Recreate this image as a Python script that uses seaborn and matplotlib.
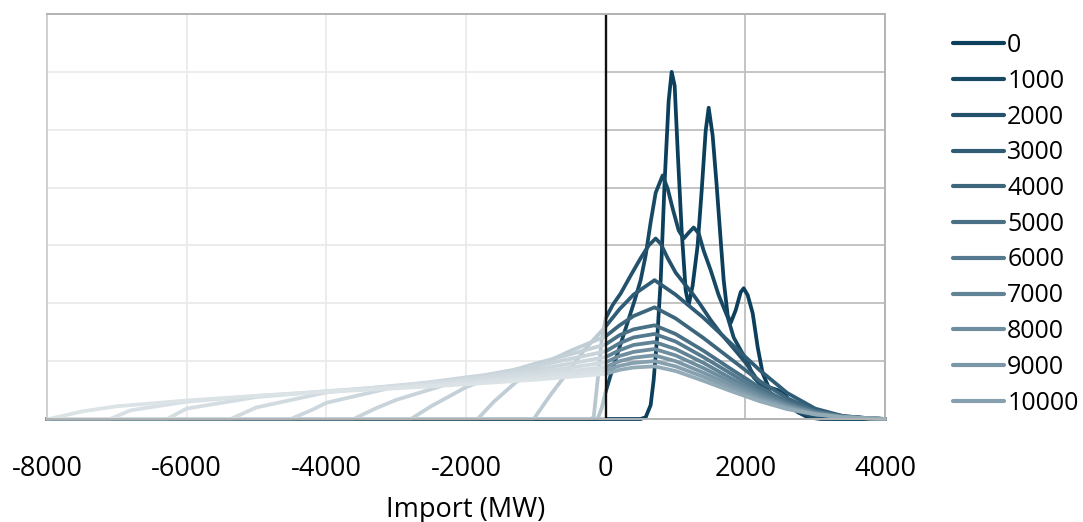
import matplotlib
matplotlib.use("Agg")
import matplotlib.pyplot as plt
from matplotlib.patches import Rectangle
from matplotlib.lines import Line2D
import seaborn as sns
import pandas as pd

sns.set_style("white")
plt.rcParams['font.family'] = ['Open Sans', 'DejaVu Sans']
plt.rcParams['text.color'] = 'black'
plt.rcParams['axes.labelcolor'] = 'black'
plt.rcParams['xtick.color'] = 'black'

# ---- data (Import in MW, density in arbitrary units: one gridline = 1) ----
series_labels = ["0", "1000", "2000", "3000", "4000", "5000", "6000",
                 "7000", "8000", "9000", "10000", "11000"]

s0_x = [-8000, 501, 573, 644, 687, 745, 788, 845, 902, 945, 988, 1031, 1088, 1146, 1189,
        1246, 1317, 1375, 1432, 1475, 1532, 1590, 1647, 1690, 1747, 1790, 1862, 1933,
        1976, 2034, 2105, 2177, 2248, 2334, 2463, 2578, 2649, 2749, 2893, 3079, 4000]
s0_y = [0, 0, 0.03, 0.24, 0.67, 1.53, 2.40, 4.12, 5.50, 6.00, 5.76, 4.64, 3.26, 2.22, 1.97,
        2.31, 3.00, 3.95, 4.98, 5.38, 4.90, 4.03, 3.09, 2.40, 1.79, 1.66, 1.88, 2.19,
        2.26, 2.14, 1.83, 1.24, 0.79, 0.55, 0.50, 0.41, 0.28, 0.12, 0.03, 0, 0]

s1000_x = [-8000, -115, -57, 0, 72, 186, 301, 415, 501, 573, 644, 716, 816, 888, 959, 1045,
           1117, 1189, 1260, 1332, 1403, 1504, 1618, 1747, 1833, 1933, 2034, 2119, 2220,
           2406, 2606, 2792, 3007, 3294, 4000]
s1000_y = [0, 0, 0.19, 0.47, 0.76, 1.19, 1.62, 2.05, 2.40, 2.83, 3.40, 3.91, 4.21, 3.98, 3.64,
           3.26, 3.12, 3.22, 3.31, 3.21, 2.91, 2.57, 2.14, 1.76, 1.41, 1.19, 0.98, 0.72, 0.59,
           0.38, 0.21, 0.10, 0.03, 0, 0]

s2000_x = [-8000, -215, -172, -115, -57, 0, 100, 215, 358, 501, 616, 716, 788, 888, 1002,
           1146, 1260, 1360, 1504, 1647, 1833, 2005, 2148, 2291, 2477, 2678, 2907, 3222, 4000]
s2000_y = [0, 0, 0.03, 0.67, 1.36, 1.74, 1.97, 2.17, 2.48, 2.78, 3.00, 3.12, 3.03, 2.78, 2.53,
           2.31, 2.14, 1.97, 1.71, 1.48, 1.22, 0.97, 0.72, 0.53, 0.33, 0.17, 0.07, 0, 0]

# right-hand side sample points shared by the broad distributions
right_x = [200, 400, 700, 1000, 1400, 1800, 2200, 2600, 3000, 3400, 3800, 4000]

s3000_x = [-8000, -1030, -800, -600, -300, 0] + right_x
s3000_y = [0, 0, 0.40, 0.72, 1.20, 1.60,
           1.90, 2.15, 2.40, 2.15, 1.75, 1.30, 0.85, 0.45, 0.18, 0.05, 0.01, 0]

s4000_x = [-8000, -1833, -1600, -1300, -1000, -500, 0] + right_x
s4000_y = [0, 0, 0.30, 0.62, 0.90, 1.18, 1.43,
           1.62, 1.78, 1.93, 1.74, 1.40, 1.03, 0.66, 0.36, 0.15, 0.05, 0.01, 0]

s5000_x = [-8000, -2790, -2500, -2000, -1500, -1000, -500, 0] + right_x
s5000_y = [0, 0, 0.22, 0.55, 0.78, 0.96, 1.12, 1.29,
           1.45, 1.55, 1.62, 1.47, 1.18, 0.86, 0.55, 0.30, 0.13, 0.04, 0.01, 0]

s6000_x = [-8000, -3610, -3300, -3000, -2000, -1000, -500, 0] + right_x
s6000_y = [0, 0, 0.18, 0.33, 0.70, 0.92, 1.04, 1.17,
           1.31, 1.41, 1.47, 1.34, 1.07, 0.78, 0.49, 0.27, 0.12, 0.04, 0.01, 0]

s7000_x = [-8000, -4510, -4200, -4000, -3000, -2000, -1000, -500, 0] + right_x
s7000_y = [0, 0, 0.16, 0.28, 0.56, 0.72, 0.86, 0.96, 1.07,
           1.19, 1.28, 1.33, 1.21, 0.97, 0.70, 0.45, 0.25, 0.11, 0.04, 0.01, 0]

s8000_x = [-8000, -5370, -5000, -4000, -3000, -2000, -1000, -500, 0] + right_x
s8000_y = [0, 0, 0.20, 0.46, 0.58, 0.69, 0.81, 0.89, 0.98,
           1.09, 1.16, 1.21, 1.10, 0.88, 0.64, 0.41, 0.23, 0.10, 0.03, 0.01, 0]

s9000_x = [-8000, -6280, -6000, -5000, -4000, -3000, -2000, -1000, -500, 0] + right_x
s9000_y = [0, 0, 0.18, 0.38, 0.48, 0.57, 0.66, 0.76, 0.83, 0.90,
           1.00, 1.06, 1.10, 1.00, 0.80, 0.58, 0.37, 0.21, 0.09, 0.03, 0.01, 0]

s10000_x = [-8000, -7100, -6800, -6000, -5000, -4000, -3000, -2000, -1000, -500, 0] + right_x
s10000_y = [0, 0, 0.15, 0.30, 0.40, 0.48, 0.55, 0.63, 0.72, 0.78, 0.84,
            0.92, 0.97, 1.00, 0.91, 0.73, 0.53, 0.34, 0.19, 0.08, 0.03, 0.01, 0]

s11000_x = [-8000, -7976, -7500, -7000, -6000, -5000, -4000, -3000, -2000, -1000, -500, 0] + right_x
s11000_y = [0, 0, 0.13, 0.22, 0.32, 0.40, 0.47, 0.53, 0.60, 0.68, 0.73, 0.78,
            0.85, 0.89, 0.91, 0.83, 0.66, 0.48, 0.31, 0.17, 0.08, 0.03, 0.01, 0]

xs = [s0_x, s1000_x, s2000_x, s3000_x, s4000_x, s5000_x, s6000_x,
      s7000_x, s8000_x, s9000_x, s10000_x, s11000_x]
ys = [s0_y, s1000_y, s2000_y, s3000_y, s4000_y, s5000_y, s6000_y,
      s7000_y, s8000_y, s9000_y, s10000_y, s11000_y]

x_ticks = [-8000, -6000, -4000, -2000, 0, 2000, 4000]
x_label = "Import (MW)"

# ---- long-form table ----
rows = []
for lab, xx, yy in zip(series_labels, xs, ys):
    for i, (a, b) in enumerate(zip(xx, yy)):
        rows.append({"series": lab, "order": i, "mw": a, "val": b})
df = pd.DataFrame(rows)

palette = sns.blend_palette(["#0b3f5c", "#93aab7"], len(series_labels))

fig = plt.figure(figsize=(10.83, 5.22), dpi=100)
ax = fig.add_axes([47 / 1083, 1 - 419 / 522, (885 - 47) / 1083, (419 - 14) / 522])

# grid
for gy in range(1, 8):
    ax.axhline(gy, color="#bfbfbf", lw=1.3, zorder=0.5)
for gx in [-6000, -4000, -2000, 2000]:
    ax.axvline(gx, color="#bfbfbf", lw=1.3, zorder=0.5)

sns.lineplot(data=df, x="mw", y="val", hue="series", hue_order=series_labels,
             palette=palette, estimator=None, sort=False, units="series",
             lw=2.7, legend=False, ax=ax, zorder=2)
for ln in ax.lines:
    if ln.get_zorder() == 2:
        ln.set_clip_on(False)
        ln.set_solid_joinstyle("round")

# faded left half (as in the original)
ax.add_patch(Rectangle((-8000, 0), 8000, 7, facecolor="white", alpha=0.68,
                       edgecolor="none", zorder=2.5))
ax.axvline(0, color="#111111", lw=1.7, zorder=3)

ax.set_xlim(-8000, 4000)
ax.set_ylim(0, 7)
ax.set_xticks(x_ticks)
ax.set_xticklabels([str(t) for t in x_ticks])
ax.set_yticks([])
ax.tick_params(axis="x", length=0, pad=26, labelsize=19.5, colors="#000000")
ax.set_xlabel(x_label, fontsize=19.5, labelpad=9)
ax.set_ylabel("")

for side in ["top", "right", "bottom"]:
    ax.spines[side].set_color("#b3b3b3")
    ax.spines[side].set_linewidth(1.4)
    ax.spines[side].set_zorder(4)
ax.spines["left"].set_color("#d0d0d0")
ax.spines["left"].set_linewidth(1.4)

handles = [Line2D([0], [0], color=palette[i], lw=3) for i in range(11)]
leg = fig.legend(handles, series_labels[:11], loc="upper left",
                 bbox_to_anchor=(953 / 1083, 1 - 33 / 522), frameon=False,
                 fontsize=18, handlelength=2.05, handletextpad=0.12,
                 labelspacing=0.43, borderpad=0, borderaxespad=0)
for t in leg.get_texts():
    t.set_color("black")

fig.savefig("out.png", dpi=100)
